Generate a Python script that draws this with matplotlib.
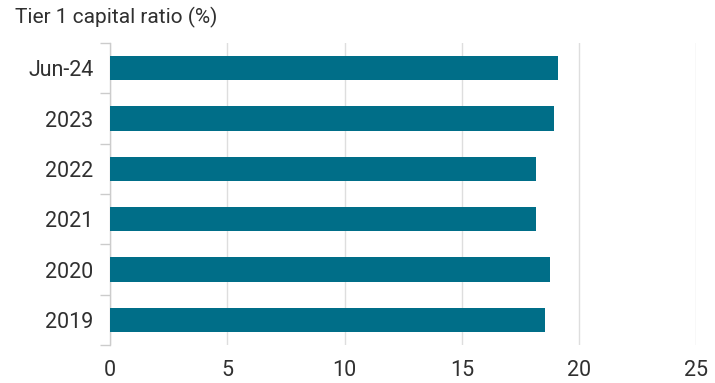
import matplotlib
matplotlib.use('Agg')
import matplotlib.pyplot as plt
import numpy as np

categories = ['2019', '2020', '2021', '2022', '2023', 'Jun-24']
tier1_ratio = [18.55, 18.75, 18.18, 18.15, 18.91, 19.12]
x_ticks = [0, 5, 10, 15, 20, 25]

bar_color = '#006e88'
grid_color = '#dedede'
text_color = '#303030'

plt.rcParams['font.family'] = ['Roboto', 'DejaVu Sans']

fig = plt.figure(figsize=(7.15, 3.83), dpi=100)
ax = fig.add_axes([0.1538, 0.0992, 0.974 - 0.1538, 0.8877 - 0.0992])

pos = np.arange(len(categories))
ax.barh(pos, tier1_ratio, height=0.48, color=bar_color, zorder=3)

ax.set_xlim(0, 25)
ax.set_ylim(-0.5, len(categories) - 0.5)
ax.set_xticks(x_ticks)
ax.set_xticklabels([str(t) for t in x_ticks], fontsize=15.5, color=text_color)
ax.set_yticks(pos)
ax.set_yticklabels(categories, fontsize=15.5, color=text_color)
ax.set_yticks(np.arange(-0.5, len(categories)), minor=True)

ax.tick_params(axis='x', length=0, pad=11)
ax.tick_params(axis='y', which='major', length=0, pad=12)
ax.tick_params(axis='y', which='minor', length=7, width=1, color='#cccccc')

ax.grid(axis='x', color=grid_color, linewidth=1, zorder=0)
for s in ['top', 'right', 'bottom']:
    ax.spines[s].set_visible(False)
ax.spines['left'].set_color('#cccccc')
ax.spines['left'].set_linewidth(1)

fig.text(15 / 715, 1 - 17 / 383, 'Tier 1 capital ratio (%)', fontsize=15,
         color=text_color, ha='left', va='center')

fig.savefig('out.png', dpi=100)
